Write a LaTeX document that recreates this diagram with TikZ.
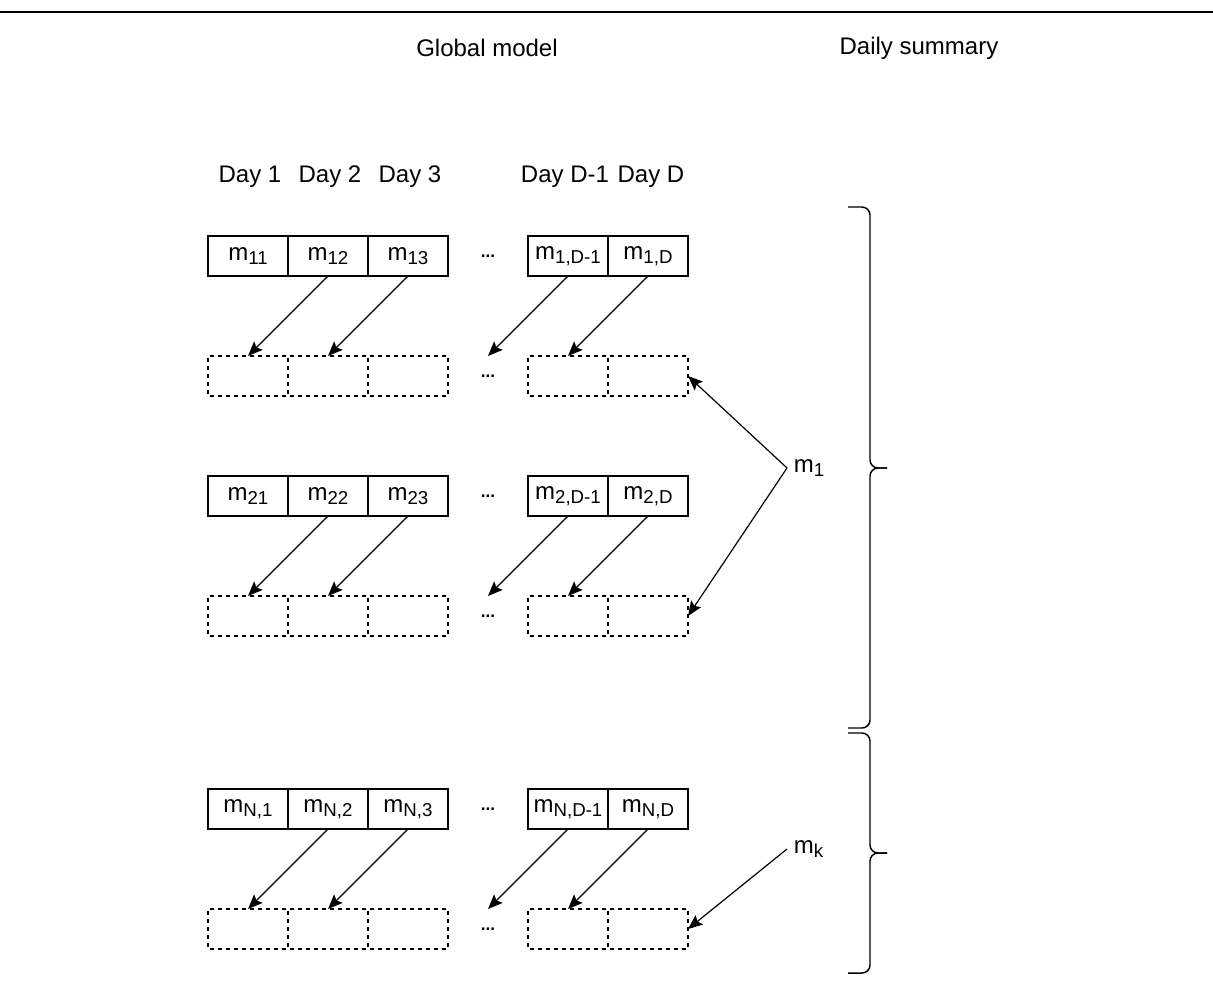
\documentclass[tikz,border=0pt]{standalone}
\usepackage{fontspec}
\setmainfont{Liberation Sans}
\usetikzlibrary{
    arrows.meta,
    positioning
}
\newcommand{\msub}[2]{#1\raisebox{-3pt}{\fontsize{14}{15}\selectfont #2}}

\begin{document}
\begin{tikzpicture}[
        x=0.75pt, y=-0.75pt,
        font=\fontsize{18}{21}\selectfont,
        cell/.style={draw, line width=0.9pt, minimum width=60pt, minimum height=30pt, inner sep=0pt, outer sep=0pt},
        slot/.style={cell, dash pattern=on 3.5pt off 2.5pt, dash phase=4.75pt},
        gap/.style={minimum width=60pt, minimum height=30pt, inner sep=0pt, outer sep=0pt, font=\fontsize{13}{13}\selectfont\bfseries},
        arrow/.style={-{Stealth[length=11pt, width=9pt, inset=2pt]}, line width=0.9pt},
        brace/.style={line width=1.1pt, rounded corners=6pt}
    ]
        \useasboundingbox (0,0) rectangle (1213,983);
        \draw[line width=1.6pt] (0,12) -- (1213,12);

        % Headers
        \node (global) at (487,48) {Global model};
        \node (summary) at (919,48) {Daily summary};

        % Row 1
        \node[cell] (c11) at (248,256) {\msub{m}{11}};
        \node[cell, right=0pt of c11] (c12) {\msub{m}{12}};
        \node[cell, right=0pt of c12] (c13) {\msub{m}{13}};
        \node[gap, right=0pt of c13] (g1) {...};
        \node[cell, right=0pt of g1] (c14) {\msub{m}{1,D-1}};
        \node[cell, right=0pt of c14] (c15) {\msub{m}{1,D}};

        \node[slot, below=60pt of c11] (s11) {};
        \node[slot, right=0pt of s11] (s12) {};
        \node[slot, right=0pt of s12] (s13) {};
        \node[gap, right=0pt of s13] (h1) {...};
        \node[slot, right=0pt of h1] (s14) {};
        \node[slot, right=0pt of s14] (s15) {};

        % Day labels
        \node (day1) at (250,177) {Day 1};
        \node (day2) at (330,177) {Day 2};
        \node (day3) at (410,177) {Day 3};
        \node (dayD1) at (565,177) {Day D-1};
        \node (dayD) at (651,177) {Day D};

        % Row 2
        \node[cell] (c21) at (248,496) {\msub{m}{21}};
        \node[cell, right=0pt of c21] (c22) {\msub{m}{22}};
        \node[cell, right=0pt of c22] (c23) {\msub{m}{23}};
        \node[gap, right=0pt of c23] (g2) {...};
        \node[cell, right=0pt of g2] (c24) {\msub{m}{2,D-1}};
        \node[cell, right=0pt of c24] (c25) {\msub{m}{2,D}};

        \node[slot, below=60pt of c21] (s21) {};
        \node[slot, right=0pt of s21] (s22) {};
        \node[slot, right=0pt of s22] (s23) {};
        \node[gap, right=0pt of s23] (h2) {...};
        \node[slot, right=0pt of h2] (s24) {};
        \node[slot, right=0pt of s24] (s25) {};

        % Row N
        \node[cell] (cN1) at (248,809) {\msub{m}{N,1}};
        \node[cell, right=0pt of cN1] (cN2) {\msub{m}{N,2}};
        \node[cell, right=0pt of cN2] (cN3) {\msub{m}{N,3}};
        \node[gap, right=0pt of cN3] (gN) {...};
        \node[cell, right=0pt of gN] (cN4) {\msub{m}{N,D-1}};
        \node[cell, right=0pt of cN4] (cN5) {\msub{m}{N,D}};

        \node[slot, below=60pt of cN1] (sN1) {};
        \node[slot, right=0pt of sN1] (sN2) {};
        \node[slot, right=0pt of sN2] (sN3) {};
        \node[gap, right=0pt of sN3] (hN) {...};
        \node[slot, right=0pt of hN] (sN4) {};
        \node[slot, right=0pt of sN4] (sN5) {};

        % Shift arrows
        \draw[arrow] (c12.south) -- (s11.north);
        \draw[arrow] (c13.south) -- (s12.north);
        \draw[arrow] (c14.south) -- (h1.north);
        \draw[arrow] (c15.south) -- (s14.north);

        \draw[arrow] (c22.south) -- (s21.north);
        \draw[arrow] (c23.south) -- (s22.north);
        \draw[arrow] (c24.south) -- (h2.north);
        \draw[arrow] (c25.south) -- (s24.north);

        \draw[arrow] (cN2.south) -- (sN1.north);
        \draw[arrow] (cN3.south) -- (sN2.north);
        \draw[arrow] (cN4.south) -- (hN.north);
        \draw[arrow] (cN5.south) -- (sN4.north);

        % Summaries
        \node[anchor=west, inner sep=5pt] (sum1) at (787,468) {\msub{m}{1}};
        \node[anchor=west, inner sep=5pt] (sumk) at (787,849) {\msub{m}{k}};
        \draw[arrow] (sum1.west) -- (s15.east);
        \draw[arrow] (sum1.west) -- (s25.east);
        \draw[arrow] (sumk.west) -- (sN5.east);

        % Braces
        \draw[brace] (848,207) -- (870,207) -- (870,468) -- (887,468);
        \draw[brace] (848,728) -- (870,728) -- (870,468) -- (887,468);
        \draw[brace] (848,733) -- (870,733) -- (870,853) -- (887,853);
        \draw[brace] (848,973) -- (870,973) -- (870,853) -- (887,853);

    \end{tikzpicture}
\end{document}
